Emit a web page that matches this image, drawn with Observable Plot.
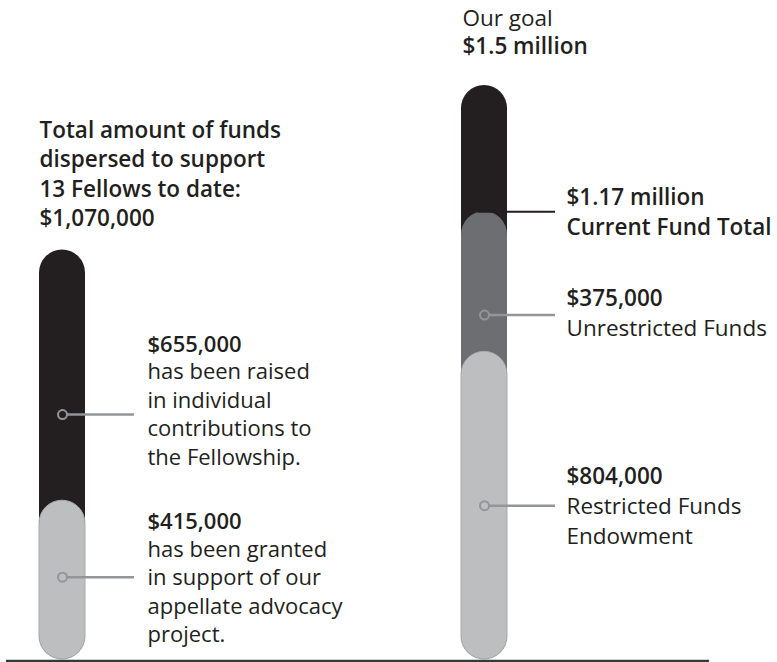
<!DOCTYPE html>
<html><head><meta charset="utf-8">
<script src="https://cdn.jsdelivr.net/npm/d3@7"></script>
<script src="https://cdn.jsdelivr.net/npm/@observablehq/plot@0.6"></script>
<style>
html,body{margin:0;padding:0;background:#fff;}
#chart svg{display:block;}
</style></head><body><div id="chart"></div>
<script>
// ---- data ----
const barNames = ["Fellowship", "Fund"];
const layerBar = ["Fellowship", "Fellowship", "Fund", "Fund", "Fund"];
const layerName = ["Total dispersed", "Grants", "Goal", "Current Fund Total", "Restricted Funds Endowment"];
const layerValue = [1070000, 415000, 1500000, 1170000, 804000];

const noteBar = ["Fellowship", "Fellowship", "Fund", "Fund"];
const noteAmount = ["$655,000", "$415,000", "$375,000", "$804,000"];
const noteText = [
  "has been raised\nin individual\ncontributions to\nthe Fellowship.",
  "has been granted\nin support of our\nappellate advocacy\nproject.",
  "Unrestricted Funds",
  "Restricted Funds\nEndowment"
];
const noteAt = [640000, 215000, 900000, 402000];

const leftTitle = ["Total amount of funds", "dispersed to support", "13 Fellows to date:", "$1,070,000"];
const goalLabel = ["Our goal", "$1.5 million"];
const currentLabel = ["$1.17 million", "Current Fund Total"];
const currentValue = 1170000;

// ---- styles / layout ----
const FONT = "'Open Sans', sans-serif";
const FS = 22.5;
const BOLD = 600;
const INK = "#231f20";
const FILL = {"Total dispersed": "#231f20", "Grants": "#bcbec0", "Goal": "#231f20",
  "Current Fund Total": "#6d6e71", "Restricted Funds Endowment": "#bcbec0"};
const STROKE = {"Total dispersed": "none", "Grants": "#a7a9ac", "Goal": "none",
  "Current Fund Total": "none", "Restricted Funds Endowment": "#a7a9ac"};
const LEAD = "#939598";
const boldDy = [-63, -48, -9, -22];
const textDy = [50, 65, 21, 38];
const spacing = [28.4, 28.4, 30, 30];
const noteFS = [22, 22, 22.5, 22.5];
const textDx = {"Fellowship": 85, "Fund": 82};

const layers = layerName.map((name, i) => ({bar: layerBar[i], name, value: layerValue[i]}));

const noteMarks = noteAmount.flatMap((amt, i) => {
  const d = [i];
  return [
    Plot.tickY(d, {x: j => noteBar[j], y: j => noteAt[j], stroke: LEAD, strokeWidth: 2.5,
      insetLeft: 27.5, insetRight: noteBar[i] === "Fellowship" ? -49 : -48}),
    Plot.dot(d, {x: j => noteBar[j], y: j => noteAt[j], r: 4.5, stroke: LEAD, strokeWidth: 2, fill: "none"}),
    Plot.text(d, {x: j => noteBar[j], y: j => noteAt[j], text: j => noteAmount[j], dx: textDx[noteBar[i]], dy: boldDy[i],
      textAnchor: "start", lineAnchor: "bottom", fontWeight: BOLD, fontSize: noteFS[i], fontFamily: FONT, fill: INK}),
    Plot.text(d, {x: j => noteBar[j], y: j => noteAt[j], text: j => noteText[j], dx: textDx[noteBar[i]], dy: textDy[i],
      textAnchor: "start", lineAnchor: "bottom", lineHeight: spacing[i] / noteFS[i], fontWeight: 400, fontSize: noteFS[i], fontFamily: FONT, fill: INK})
  ];
});

const chart = Plot.plot({
  width: 777, height: 662,
  marginLeft: 38, marginRight: 270, marginTop: 85, marginBottom: 3,
  x: {type: "band", domain: barNames, paddingInner: 0.89125, paddingOuter: 0, axis: null},
  y: {domain: [0, 1500000], axis: null},
  color: {type: "identity"},
  style: {fontFamily: FONT, background: "#fff", overflow: "visible"},
  marks: [
    Plot.barY(layers, {x: "bar", y1: () => 0, y2: "value", fill: d => FILL[d.name], stroke: d => STROKE[d.name], strokeWidth: 1, rx: 23}),
    Plot.tickY([currentValue], {x: () => "Fund", y: d => d, stroke: INK, strokeWidth: 2, insetLeft: 17, insetRight: -48}),
    Plot.ruleY([0], {stroke: "#2f3d2e", strokeWidth: 2.5, dy: 1.5, insetLeft: -32, insetRight: -202}),
    ...noteMarks,
    Plot.text([leftTitle.join("\n")], {x: () => barNames[0], y: () => layerValue[0], text: d => d, dx: -23, dy: -24,
      textAnchor: "start", lineAnchor: "bottom", lineHeight: 29.5 / FS, fontWeight: BOLD, fontSize: FS, fontFamily: FONT, fill: INK}),
    Plot.text([goalLabel[0]], {x: () => barNames[1], y: () => layerValue[2], text: d => d, dx: -22, dy: -60,
      textAnchor: "start", lineAnchor: "bottom", fontWeight: 400, fontSize: FS, fontFamily: FONT, fill: INK}),
    Plot.text([goalLabel[1]], {x: () => barNames[1], y: () => layerValue[2], text: d => d, dx: -22, dy: -32,
      textAnchor: "start", lineAnchor: "bottom", fontWeight: BOLD, fontSize: FS, fontFamily: FONT, fill: INK}),
    Plot.text([currentLabel.join("\n")], {x: () => barNames[1], y: () => currentValue, text: d => d, dx: 82, dy: 23.5,
      textAnchor: "start", lineAnchor: "bottom", lineHeight: 30 / FS, fontWeight: BOLD, fontSize: FS, fontFamily: FONT, fill: INK})
  ]
});
document.getElementById("chart").append(chart);
</script></body></html>
